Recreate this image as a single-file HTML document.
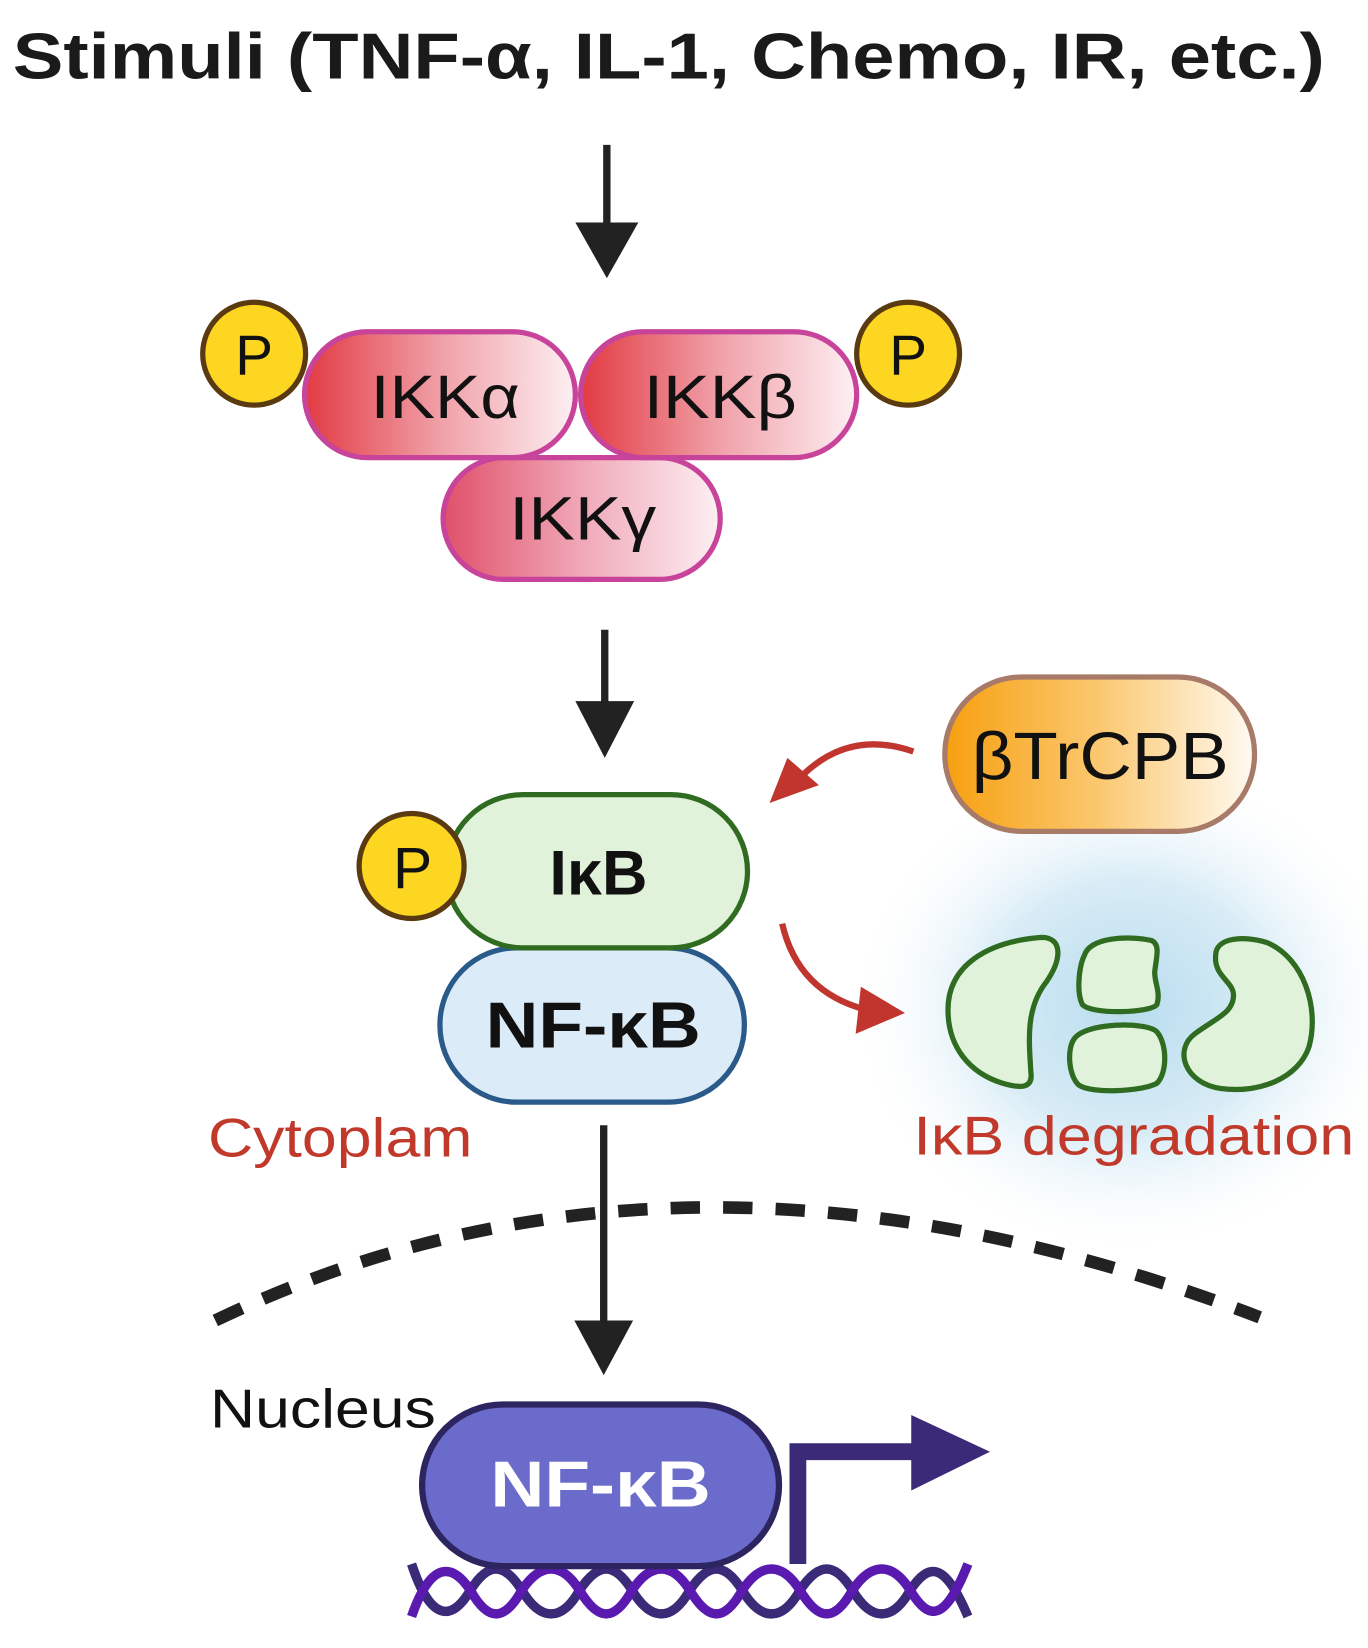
<!DOCTYPE html>
<html><head><meta charset="utf-8"><style>
html,body{margin:0;padding:0;background:#fff;}
svg{display:block;}
text{font-family:"Liberation Sans",sans-serif;}
</style></head><body>
<svg width="1368" height="1648" viewBox="0 0 1303 1570" xmlns="http://www.w3.org/2000/svg">
<defs>
<linearGradient id="ikk" x1="0" x2="1" y1="0" y2="0"><stop offset="0" stop-color="#e23a42"/><stop offset="0.5" stop-color="#f0a0a8"/><stop offset="1" stop-color="#fdf0f3"/></linearGradient>
<linearGradient id="ikkg" x1="0" x2="1"><stop offset="0" stop-color="#e0506a"/><stop offset="0.5" stop-color="#f0a8b8"/><stop offset="1" stop-color="#fdf0f3"/></linearGradient>
<linearGradient id="btr" x1="0" x2="1"><stop offset="0" stop-color="#f7a010"/><stop offset="0.5" stop-color="#fbc870"/><stop offset="1" stop-color="#fffaf2"/></linearGradient>
<radialGradient id="glow" cx="0.5" cy="0.5" r="0.5"><stop offset="0" stop-color="#b8dcee"/><stop offset="0.5" stop-color="#d8ecf6"/><stop offset="1" stop-color="#ffffff" stop-opacity="0"/></radialGradient>
</defs>
<rect width="1303" height="1570" fill="#fff"/>
<ellipse cx="1075" cy="960" rx="270" ry="240" fill="url(#glow)"/>

<text x="12" y="75" font-size="62" font-weight="bold" fill="#1a1a1a" textLength="1250" lengthAdjust="spacingAndGlyphs">Stimuli (TNF-α, IL-1, Chemo, IR, etc.)</text>

<line x1="578" y1="138" x2="578" y2="220" stroke="#222" stroke-width="7"/>
<polygon points="548,212 608,212 578,265" fill="#222"/>

<rect x="422" y="436" width="264" height="116" rx="58" fill="url(#ikkg)" stroke="#c8449a" stroke-width="5"/>
<rect x="290" y="316" width="258" height="120" rx="60" fill="url(#ikk)" stroke="#c8449a" stroke-width="5"/>
<rect x="553" y="316" width="263" height="120" rx="60" fill="url(#ikk)" stroke="#c8449a" stroke-width="5"/>
<circle cx="242" cy="337" r="49" fill="#fdd622" stroke="#5a3a10" stroke-width="5"/>
<circle cx="865" cy="337" r="49" fill="#fdd622" stroke="#5a3a10" stroke-width="5"/>
<text x="242" y="357" font-size="54" text-anchor="middle" fill="#111">P</text>
<text x="865" y="357" font-size="54" text-anchor="middle" fill="#111">P</text>
<text x="424" y="398" font-size="58" text-anchor="middle" fill="#111" textLength="142" lengthAdjust="spacingAndGlyphs">IKKα</text>
<text x="686" y="398" font-size="58" text-anchor="middle" fill="#111" textLength="146" lengthAdjust="spacingAndGlyphs">IKKβ</text>
<text x="555" y="514" font-size="58" text-anchor="middle" fill="#111" textLength="140" lengthAdjust="spacingAndGlyphs">IKKγ</text>

<line x1="576" y1="600" x2="576" y2="675" stroke="#222" stroke-width="7"/>
<polygon points="548,668 604,668 576,722" fill="#222"/>

<rect x="419" y="903" width="290" height="147" rx="73" fill="#dcebf8" stroke="#2a5a8a" stroke-width="5"/>
<rect x="425" y="757" width="287" height="146" rx="73" fill="#e0f3da" stroke="#2f6b20" stroke-width="5"/>
<circle cx="392" cy="825" r="50" fill="#fdd622" stroke="#5a3a10" stroke-width="5"/>
<text x="393" y="846" font-size="56" text-anchor="middle" fill="#111">P</text>
<text x="570" y="852" font-size="60" font-weight="bold" text-anchor="middle" fill="#111">IκB</text>
<text x="565" y="998" font-size="62" font-weight="bold" text-anchor="middle" fill="#111" textLength="205" lengthAdjust="spacingAndGlyphs">NF-κB</text>
<text x="198" y="1102" font-size="52" fill="#c0392b" textLength="252" lengthAdjust="spacingAndGlyphs">Cytoplam</text>

<rect x="900" y="645" width="295" height="147" rx="73" fill="url(#btr)" stroke="#a87a68" stroke-width="5"/>
<text x="1048" y="742" font-size="64" text-anchor="middle" fill="#111" textLength="245" lengthAdjust="spacingAndGlyphs">βTrCPB</text>

<path d="M870,716 Q810,695 765,738" fill="none" stroke="#c0352e" stroke-width="6"/>
<polygon points="733,765 750,722 780,748" fill="#c0352e"/>
<path d="M745,880 Q760,945 825,962" fill="none" stroke="#c0352e" stroke-width="6"/>
<polygon points="862,965 820,940 815,985" fill="#c0352e"/>

<g fill="#e0f3da" stroke="#2f6b20" stroke-width="5">
<path d="M903,962 C903,920 940,897 992,893 C1012,893 1012,913 997,935 C977,960 980,990 982,1022 C984,1037 972,1037 955,1032 C923,1022 903,997 903,962 Z"/>
<path d="M1033,910 C1038,893 1075,891 1097,896 C1105,900 1102,910 1100,925 C1099,935 1106,945 1102,957 C1097,965 1040,967 1031,957 C1025,945 1028,920 1033,910 Z"/>
<path d="M1023,990 C1033,974 1092,973 1102,983 C1112,995 1112,1022 1102,1032 C1087,1040 1040,1042 1028,1034 C1018,1026 1016,1000 1023,990 Z"/>
<path d="M1158,910 C1158,893 1185,891 1207,898 C1242,913 1257,960 1247,997 C1237,1027 1200,1042 1163,1037 C1128,1032 1118,1000 1138,985 C1158,970 1175,965 1175,948 C1175,935 1156,930 1158,910 Z"/>
</g>
<text x="870" y="1100" font-size="52" fill="#c0392b" textLength="420" lengthAdjust="spacingAndGlyphs">IκB degradation</text>

<line x1="575" y1="1072" x2="575" y2="1265" stroke="#222" stroke-width="7"/>
<polygon points="547,1258 603,1258 575,1310" fill="#222"/>

<path d="M205,1258 Q650,1044 1200,1255" fill="none" stroke="#222" stroke-width="12" stroke-dasharray="28 22"/>

<text x="200" y="1360" font-size="52" fill="#111" textLength="215" lengthAdjust="spacingAndGlyphs">Nucleus</text>

<path d="M392,1490 C410,1545 430,1545 448,1515 C465,1488 480,1488 497,1515 C515,1545 535,1545 552,1515 C570,1488 585,1488 602,1515 C620,1545 640,1545 657,1515 C675,1488 690,1488 707,1515 C725,1545 745,1545 762,1515 C780,1488 795,1488 812,1515 C830,1545 850,1545 867,1515 C885,1488 900,1488 922,1540" fill="none" stroke="#3a2a78" stroke-width="9"/>
<path d="M392,1540 C410,1488 430,1488 448,1515 C465,1545 480,1545 497,1515 C515,1488 535,1488 552,1515 C570,1545 585,1545 602,1515 C620,1488 640,1488 657,1515 C675,1545 690,1545 707,1515 C725,1488 745,1488 762,1515 C780,1545 795,1545 812,1515 C830,1488 850,1488 867,1515 C885,1545 900,1545 922,1490" fill="none" stroke="#5a1ab0" stroke-width="9"/>

<rect x="402" y="1338" width="340" height="154" rx="77" fill="#6b6bcc" stroke="#2d2560" stroke-width="6"/>
<text x="572" y="1435" font-size="62" font-weight="bold" text-anchor="middle" fill="#fff" textLength="210" lengthAdjust="spacingAndGlyphs">NF-κB</text>

<path d="M760,1490 L760,1383 L880,1383" fill="none" stroke="#3a2a78" stroke-width="16"/>
<polygon points="868,1348 943,1383 868,1420" fill="#3a2a78"/>
</svg>
</body></html>
